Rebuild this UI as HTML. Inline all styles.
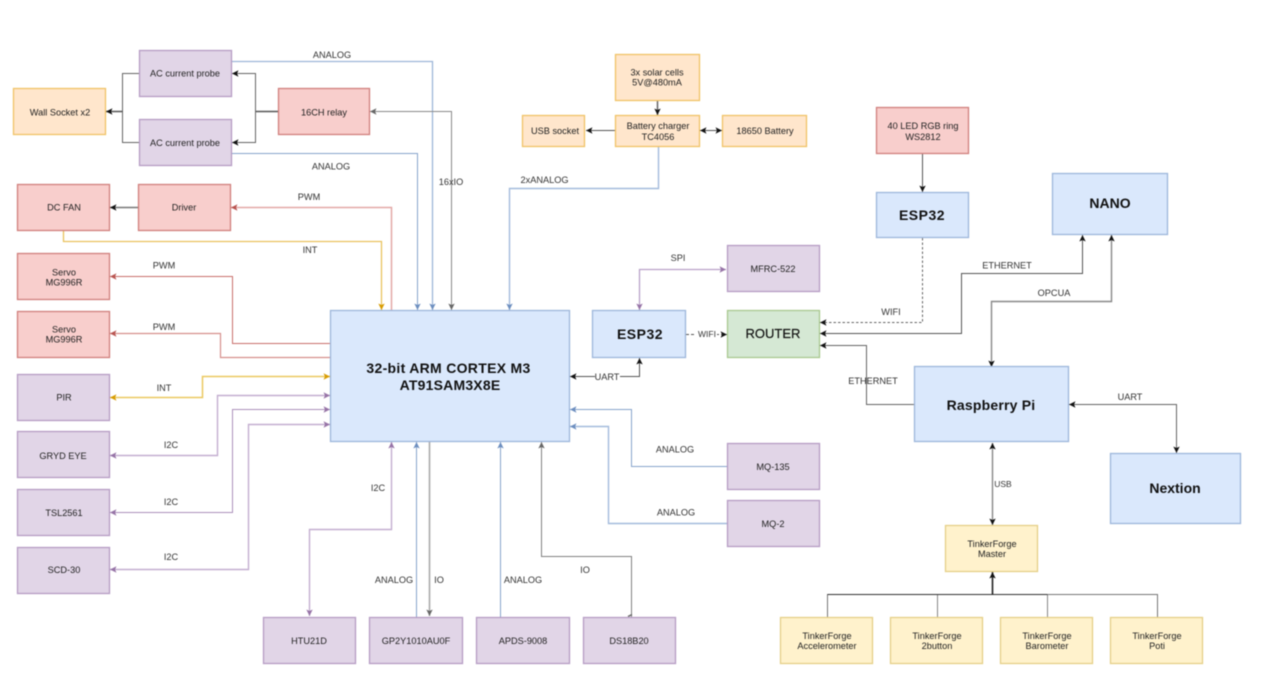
<!DOCTYPE html>
<html lang="en">
<head>
<meta charset="utf-8">
<title>System block diagram</title>
<style>
html,body{margin:0;padding:0;background:#fff;width:1264px;height:697px;overflow:hidden}
svg{display:block;filter:blur(.4px)}
text{font-family:"Liberation Sans",Arial,sans-serif;font-size:9.2px;fill:#222;text-anchor:middle}
.l{font-size:9.2px;fill:#333}
.b{font-weight:bold;fill:#111}
.n rect{stroke-width:1.3}
.blue{fill:#dae8fc;stroke:#9db6da}
.pur{fill:#e1d5e7;stroke:#b59cc4}
.red{fill:#f8cecc;stroke:#cf7f7c}
.org{fill:#ffe6cc;stroke:#f0c266}
.yel{fill:#fff2cc;stroke:#e5cf87}
.grn{fill:#d5e8d4;stroke:#a8c88f}
.c path{fill:none;stroke-width:1}
</style>
</head>
<body>
<svg width="1264" height="697" viewBox="0 0 1264 697" xmlns="http://www.w3.org/2000/svg">
<defs>
<marker id="ak" markerUnits="userSpaceOnUse" markerWidth="8" markerHeight="8" refX="7" refY="4" orient="auto-start-reverse"><path d="M7,4 L0.5,0.8 L2,4 L0.5,7.2Z" fill="#111"/></marker>
<marker id="ag" markerUnits="userSpaceOnUse" markerWidth="8" markerHeight="8" refX="7" refY="4" orient="auto-start-reverse"><path d="M7,4 L0.5,0.8 L2,4 L0.5,7.2Z" fill="#666"/></marker>
<marker id="ab" markerUnits="userSpaceOnUse" markerWidth="8" markerHeight="8" refX="7" refY="4" orient="auto-start-reverse"><path d="M7,4 L0.5,0.8 L2,4 L0.5,7.2Z" fill="#6c8ebf"/></marker>
<marker id="ap" markerUnits="userSpaceOnUse" markerWidth="8" markerHeight="8" refX="7" refY="4" orient="auto-start-reverse"><path d="M7,4 L0.5,0.8 L2,4 L0.5,7.2Z" fill="#9673a6"/></marker>
<marker id="ar" markerUnits="userSpaceOnUse" markerWidth="8" markerHeight="8" refX="7" refY="4" orient="auto-start-reverse"><path d="M7,4 L0.5,0.8 L2,4 L0.5,7.2Z" fill="#b85450"/></marker>
<marker id="ay" markerUnits="userSpaceOnUse" markerWidth="8" markerHeight="8" refX="7" refY="4" orient="auto-start-reverse"><path d="M7,4 L0.5,0.8 L2,4 L0.5,7.2Z" fill="#d79b00"/></marker>
</defs>

<g class="c">
<!-- Left top power -->
<g stroke="#666">
<path d="M278.5,111.5H255.5" style="stroke-width:1.5;stroke:#555"/>
<path d="M255.5,111.5V73.5H232" marker-end="url(#ak)"/>
<path d="M255.5,111.5V142.5H232" marker-end="url(#ak)"/>
<path d="M139,73.5H122.5V142.5H139"/>
<path d="M122.5,111.5H106" style="stroke-width:1.5;stroke:#555" marker-end="url(#ak)"/>
<path d="M138,207.5H110" style="stroke-width:1.6;stroke:#777" marker-end="url(#ak)"/>
</g>
<!-- analog blue -->
<g stroke="#88a4cc">
<path d="M231,61.5H432.5V310" style="stroke-width:1.3;stroke:#9cb5d8" marker-end="url(#ab)"/>
<path d="M231,153.5H417.5V310" marker-end="url(#ab)"/>
<path d="M658.5,146V188.5H509.5V310" style="stroke-width:1.4;stroke:#a3bbdc" marker-end="url(#ab)"/>
<path d="M416.5,617V442" marker-end="url(#ab)"/>
<path d="M500.5,617V442" marker-end="url(#ab)"/>
<path d="M727,466.5H631.5V409.5H570" marker-end="url(#ab)"/>
<path d="M727,523.5H608.5V426.5H570" style="stroke-width:1.4;stroke:#a3bbdc" marker-end="url(#ab)"/>
</g>
<!-- grey -->
<g stroke="#777">
<path d="M370,111.5H451.5V310" style="stroke:#8a8a8a" marker-start="url(#ag)" marker-end="url(#ag)"/>
<path d="M429.5,441V616" style="stroke-width:1.6;stroke:#aaa" marker-end="url(#ag)"/>
<path d="M631.5,617V556.5H541.5V442" style="stroke:#808080" marker-end="url(#ag)"/>
<path d="M628,616.5L632,614.5" style="stroke:#666;stroke-width:1.5"/>
</g>
<!-- red -->
<g stroke="#c9706c">
<path d="M391.5,311V207.5H231" style="stroke-width:1.5;stroke:#e3a8a6" marker-end="url(#ar)"/>
<path d="M331,343.5H232.5V276.5H110" marker-end="url(#ar)"/>
<path d="M331,357.5H220.5V333.5H110" style="stroke-width:1.2;stroke:#d58f8c" marker-end="url(#ar)"/>
</g>
<!-- yellow -->
<g stroke="#e2b23c">
<path d="M63.5,230V241.5H381.5V310" style="stroke-width:1.3;stroke:#e9c25e" marker-end="url(#ay)"/>
<path d="M330,376.5H202.5V397.5H110" style="stroke-width:1.5;stroke:#ebc860" marker-start="url(#ay)" marker-end="url(#ay)"/>
</g>
<!-- purple -->
<g stroke="#ac90bb">
<path d="M330,395.5H217.5V455.5H110" style="stroke-width:1.4;stroke:#c3aed0" marker-start="url(#ap)" marker-end="url(#ap)"/>
<path d="M330,409.5H232.5V512.5H110" marker-start="url(#ap)" marker-end="url(#ap)"/>
<path d="M330,424.5H248.5V569.5H110" style="stroke-width:1.4;stroke:#c3aed0" marker-start="url(#ap)" marker-end="url(#ap)"/>
<path d="M391.5,442V529.5H309.5V616" style="stroke-width:1.4;stroke:#c3aed0" marker-start="url(#ap)" marker-end="url(#ap)"/>
<path d="M726,269.5H639.5V310" style="stroke-width:1.3;stroke:#b9a1c8" marker-start="url(#ap)" marker-end="url(#ap)"/>
</g>
<!-- dark -->
<g stroke="#555">
<path d="M657.5,100V115" style="stroke-width:1.5;stroke:#666" marker-end="url(#ak)"/>
<path d="M615,130.5H586" marker-end="url(#ak)"/>
<path d="M700,130.5H722" marker-start="url(#ak)" marker-end="url(#ak)"/>
<path d="M570,376.5H639.5V358" marker-start="url(#ak)" marker-end="url(#ak)"/>
<path d="M922.5,154V192" marker-end="url(#ak)"/>
<path d="M820,333.5H961.5V273.5H1082.5V235" marker-start="url(#ak)" marker-end="url(#ak)"/>
<path d="M1111.5,235V301.5H991.5V367" style="stroke-width:1.4;stroke:#888" marker-start="url(#ak)" marker-end="url(#ak)"/>
<path d="M914,404.5H866.5V345.5H820" style="stroke:#666" marker-end="url(#ak)"/>
<path d="M1069,404.5H1176.5V453" style="stroke:#666" marker-start="url(#ak)" marker-end="url(#ak)"/>
<path d="M992.5,443V525" style="stroke-width:1.4;stroke:#888" marker-start="url(#ak)" marker-end="url(#ak)"/>
<path d="M922.5,238V322.5H820" style="stroke:#666" stroke-dasharray="2.5 2" marker-end="url(#ak)"/>
<path d="M686,334.5H727" stroke-dasharray="3 2" marker-end="url(#ak)"/>
<path d="M827.5,617V594.5H1157.5V617" style="stroke:#777"/>
<path d="M937.5,617V594.5" style="stroke:#888"/>
<path d="M1047.5,617V594.5" style="stroke:#888"/>
<path d="M827.5,594.5H1047.5" style="stroke:#333"/>
<path d="M992.5,594.5V572" style="stroke-width:1.6;stroke:#222" marker-end="url(#ak)"/>
</g>
</g>

<g class="n">
<rect class="org" x="13.5" y="88.5" width="92" height="46"/>
<rect class="pur" x="139.5" y="50.5" width="92" height="46"/>
<rect class="pur" x="139.5" y="119.5" width="92" height="46"/>
<rect class="red" x="278.5" y="88.5" width="91" height="46"/>
<rect class="red" x="17.5" y="184.5" width="92" height="46"/>
<rect class="red" x="138.5" y="184.5" width="92" height="46"/>
<rect class="red" x="17.5" y="253.5" width="92" height="46"/>
<rect class="red" x="17.5" y="311.5" width="92" height="46"/>
<rect class="pur" x="17.5" y="374.5" width="92" height="46"/>
<rect class="pur" x="17.5" y="431.5" width="92" height="46"/>
<rect class="pur" x="17.5" y="489.5" width="92" height="46"/>
<rect class="pur" x="17.5" y="547.5" width="92" height="46"/>
<rect class="pur" x="263.5" y="617.5" width="92" height="46"/>
<rect class="pur" x="369.5" y="617.5" width="93" height="46"/>
<rect class="pur" x="476.5" y="617.5" width="93" height="46"/>
<rect class="pur" x="583.5" y="617.5" width="92" height="46"/>
<rect class="blue" x="330.5" y="310.5" width="239" height="131"/>
<rect class="blue" x="592.5" y="310.5" width="93" height="47"/>
<rect class="grn" x="727.5" y="310.5" width="92" height="47"/>
<rect class="pur" x="727.5" y="245.5" width="92" height="46"/>
<rect class="pur" x="727.5" y="443.5" width="92" height="46"/>
<rect class="pur" x="727.5" y="500.5" width="92" height="46"/>
<rect class="org" x="615.5" y="54.5" width="84" height="46"/>
<rect class="org" x="615.5" y="115.5" width="84" height="31"/>
<rect class="org" x="522.5" y="115.5" width="62" height="31"/>
<rect class="org" x="722.5" y="115.5" width="84" height="31"/>
<rect class="red" x="876.5" y="107.5" width="92" height="46"/>
<rect class="blue" x="876.5" y="192.5" width="92" height="45"/>
<rect class="blue" x="1052.5" y="173.5" width="115" height="61"/>
<rect class="blue" x="914.5" y="366.5" width="154" height="75"/>
<rect class="blue" x="1110.5" y="453.5" width="130" height="70"/>
<rect class="yel" x="945.5" y="525.5" width="92" height="46"/>
<rect class="yel" x="780.5" y="617.5" width="92" height="46"/>
<rect class="yel" x="890.5" y="617.5" width="92" height="46"/>
<rect class="yel" x="1000.5" y="617.5" width="92" height="46"/>
<rect class="yel" x="1110.5" y="617.5" width="92" height="46"/>
</g>

<g>
<text x="60" y="115.5">Wall Socket x2</text>
<text x="185" y="76.5">AC current probe</text>
<text x="185" y="146">AC current probe</text>
<text x="324" y="115.5">16CH relay</text>
<text x="64" y="210.5">DC FAN</text>
<text x="184" y="210.5">Driver</text>
<text x="64" y="275.5">Servo</text><text x="64" y="285.5">MG996R</text>
<text x="64" y="332.5">Servo</text><text x="64" y="342.5">MG996R</text>
<text x="64" y="400.5">PIR</text>
<text x="63" y="459">GRYD EYE</text>
<text x="64" y="516">TSL2561</text>
<text x="64" y="573">SCD-30</text>
<text x="309" y="644">HTU21D</text>
<text x="416" y="644">GP2Y1010AU0F</text>
<text x="523" y="644">APDS-9008</text>
<text x="629" y="644">DS18B20</text>
<text x="773" y="272">MFRC-522</text>
<text x="773" y="470">MQ-135</text>
<text x="773" y="527">MQ-2</text>
<text x="657" y="75.5">3x solar cells</text><text x="657" y="85.5">5V@480mA</text>
<text x="658" y="129">Battery charger</text><text x="658" y="140">TC4056</text>
<text x="555" y="134">USB socket</text>
<text x="765" y="134">18650 Battery</text>
<text x="923" y="129">40 LED RGB ring</text><text x="923" y="140">WS2812</text>
<text x="992" y="547">TinkerForge</text><text x="992" y="557">Master</text>
<text x="827" y="639">TinkerForge</text><text x="827" y="649">Accelerometer</text>
<text x="937" y="639">TinkerForge</text><text x="937" y="649">2button</text>
<text x="1047" y="639">TinkerForge</text><text x="1047" y="649">Barometer</text>
<text x="1157" y="639">TinkerForge</text><text x="1157" y="649">Poti</text>

<text class="b" x="448.5" y="373" style="font-size:14px;letter-spacing:.3px">32-bit ARM CORTEX M3</text>
<text class="b" x="450" y="390" style="font-size:14px;letter-spacing:.2px">AT91SAM3X8E</text>
<text class="b" x="640" y="339" style="font-size:14px;letter-spacing:.5px">ESP32</text>
<text x="773" y="338" style="font-size:13px;fill:#111;stroke:#111;stroke-width:.2">ROUTER</text>
<text class="b" x="922" y="220" style="font-size:14px;letter-spacing:.5px">ESP32</text>
<text class="b" x="1110" y="208" style="font-size:14px">NANO</text>
<text class="b" x="991" y="410" style="font-size:14px;letter-spacing:.2px">Raspberry Pi</text>
<text class="b" x="1175" y="493" style="font-size:14px">Nextion</text>
</g>

<g>
<text class="l" x="332" y="58">ANALOG</text>
<text class="l" x="331" y="169.5">ANALOG</text>
<text class="l" x="309" y="200">PWM</text>
<text class="l" x="310" y="253">INT</text>
<text class="l" x="164" y="268.5">PWM</text>
<text class="l" x="164" y="330">PWM</text>
<text class="l" x="164" y="391">INT</text>
<text class="l" x="171" y="448">I2C</text>
<text class="l" x="171" y="505">I2C</text>
<text class="l" x="171" y="560">I2C</text>
<text class="l" x="378" y="491">I2C</text>
<text class="l" x="394" y="583">ANALOG</text>
<text class="l" x="439" y="583">IO</text>
<text class="l" x="523" y="583">ANALOG</text>
<text class="l" x="585" y="573">IO</text>
<text class="l" x="675" y="452.5">ANALOG</text>
<text class="l" x="676" y="515.5">ANALOG</text>
<rect x="595" y="372" width="25" height="9" fill="#fff"/>
<text class="l" x="607" y="380">UART</text>
<text class="l" x="678" y="261">SPI</text>
<rect x="696" y="330" width="21" height="9" fill="#fff"/>
<text class="l" x="707" y="337" style="font-size:8.5px">WIFI</text>
<text class="l" x="451" y="185">16xIO</text>
<text class="l" x="544.5" y="183">2xANALOG</text>
<text class="l" x="1007" y="268.5">ETHERNET</text>
<text class="l" x="1054" y="296">OPCUA</text>
<text class="l" x="891" y="315">WIFI</text>
<text class="l" x="873" y="384">ETHERNET</text>
<text class="l" x="1130" y="400">UART</text>
<rect x="994" y="479" width="19" height="10" fill="#fff"/>
<text class="l" x="1003" y="487" style="font-size:8.5px">USB</text>
</g>
</svg>
</body>
</html>
